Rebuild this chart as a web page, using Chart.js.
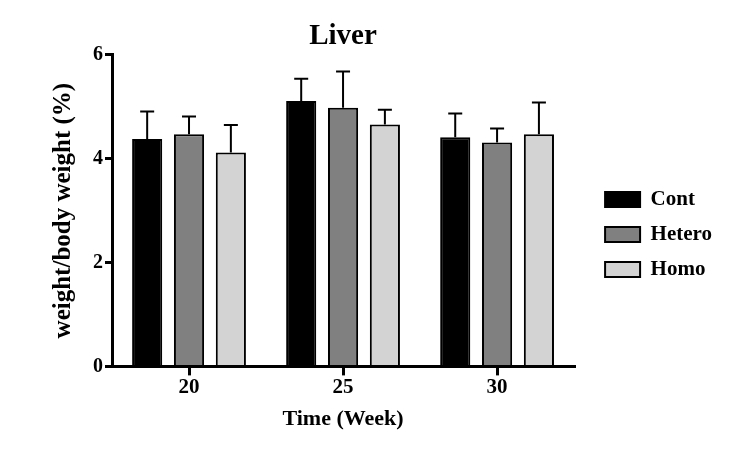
<!DOCTYPE html>
<html>
<head>
<meta charset="utf-8">
<script src="https://cdn.jsdelivr.net/npm/chart.js@4"></script>
<style>
  body { margin: 0; background: #fff; }
  #wrap { width: 739px; height: 450px; }
</style>
</head>
<body>
<div id="wrap"><canvas id="liverChart" width="739" height="450"></canvas></div>
<script>
const weeks = ['20', '25', '30'];
const seriesNames = ['Cont', 'Hetero', 'Homo'];
const contMean = [4.38, 5.11, 4.41];
const contSem = [0.53, 0.43, 0.46];
const heteroMean = [4.47, 4.98, 4.31];
const heteroSem = [0.34, 0.70, 0.27];
const homoMean = [4.12, 4.66, 4.47];
const homoSem = [0.53, 0.28, 0.61];

const serif = "'Liberation Serif', 'DejaVu Serif', serif";

// upper error bars only, like the original figure
const errorBars = {
    id: 'errorBars',
    afterDatasetsDraw(chart) {
        const ctx = chart.ctx;
        const yScale = chart.scales.y;
        ctx.save();
        ctx.strokeStyle = '#000';
        ctx.lineWidth = 2;
        chart.data.datasets.forEach((ds, i) => {
            const meta = chart.getDatasetMeta(i);
            meta.data.forEach((bar, j) => {
                const top = yScale.getPixelForValue(ds.data[j] + ds.errors[j]);
                ctx.beginPath();
                ctx.moveTo(bar.x, bar.y);
                ctx.lineTo(bar.x, top);
                ctx.moveTo(bar.x - 7, top);
                ctx.lineTo(bar.x + 7, top);
                ctx.stroke();
            });
        });
        ctx.restore();
    }
};

// nudge the legend a bit right and down, the original sits off the axis
const legendNudge = {
    id: 'legendNudge',
    afterLayout(chart) {
        const lg = chart.legend;
        lg.left += 17;
        lg.right += 17;
        lg.top += 13;
        lg.bottom += 13;
    }
};

const ctx = document.getElementById('liverChart').getContext('2d');
new Chart(ctx, {
    type: 'bar',
    data: {
        labels: weeks,
        datasets: [
            { label: seriesNames[0], data: contMean, errors: contSem, backgroundColor: '#000000', borderColor: '#000', borderWidth: 2 },
            { label: seriesNames[1], data: heteroMean, errors: heteroSem, backgroundColor: '#808080', borderColor: '#000', borderWidth: 2 },
            { label: seriesNames[2], data: homoMean, errors: homoSem, backgroundColor: '#d3d3d3', borderColor: '#000', borderWidth: 2 }
        ]
    },
    options: {
        responsive: false,
        animation: false,
        categoryPercentage: 0.815,
        barPercentage: 0.72,
        layout: { padding: { left: 45, right: 34, top: 10, bottom: 17 } },
        plugins: {
            title: {
                display: true,
                fullSize: false,
                text: 'Liver',
                color: '#000',
                font: { family: serif, size: 29, weight: 'bold' },
                padding: { top: 9, bottom: 1 }
            },
            legend: {
                position: 'right',
                labels: {
                    color: '#000',
                    boxWidth: 35,
                    boxHeight: 15,
                    padding: 14,
                    font: { family: serif, size: 21, weight: 'bold' }
                }
            },
            tooltip: { enabled: false }
        },
        scales: {
            x: {
                border: { color: '#000', width: 3 },
                grid: { display: true, drawOnChartArea: false, offset: false, color: '#000', lineWidth: 3, tickLength: 9 },
                ticks: { color: '#000', font: { family: serif, size: 21, weight: 'bold' }, padding: 0 },
                title: { display: true, text: 'Time (Week)', color: '#000', font: { family: serif, size: 22, weight: 'bold' }, padding: { top: 6, bottom: 0 } }
            },
            y: {
                min: 0,
                max: 6,
                border: { color: '#000', width: 3 },
                grid: { display: true, drawOnChartArea: false, color: '#000', lineWidth: 3, tickLength: 7 },
                ticks: { stepSize: 2, color: '#000', font: { family: serif, size: 20, weight: 'bold' }, padding: 2 },
                title: { display: true, text: 'weight/body weight (%)', color: '#000', font: { family: serif, size: 25, weight: 'bold' }, padding: { bottom: 12 } }
            }
        }
    },
    plugins: [errorBars, legendNudge]
});
</script>
</body>
</html>
